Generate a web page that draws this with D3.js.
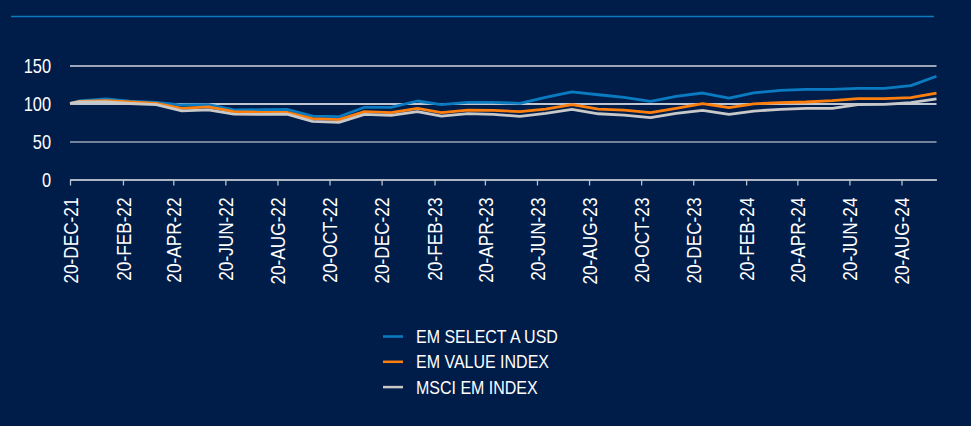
<!DOCTYPE html>
<html>
<head>
<meta charset="utf-8">
<script src="https://cdn.jsdelivr.net/npm/d3@7"></script>
<style>
  body { margin: 0; background: #001d4a; }
  svg { display: block; }
  text { font-family: "Liberation Sans", Arial, sans-serif; fill: #ffffff; }
</style>
</head>
<body>
<svg id="chart" width="971" height="426"></svg>
<script>
// data: index level, start 20-Dec-21 then month ends
const dates = [
  "2021-12-20", "2021-12-31",
  "2022-01-31", "2022-02-28", "2022-03-31", "2022-04-30", "2022-05-31", "2022-06-30",
  "2022-07-31", "2022-08-31", "2022-09-30", "2022-10-31", "2022-11-30", "2022-12-31",
  "2023-01-31", "2023-02-28", "2023-03-31", "2023-04-30", "2023-05-31", "2023-06-30",
  "2023-07-31", "2023-08-31", "2023-09-30", "2023-10-31", "2023-11-30", "2023-12-31",
  "2024-01-31", "2024-02-29", "2024-03-31", "2024-04-30", "2024-05-31", "2024-06-30",
  "2024-07-31", "2024-08-31", "2024-09-30"
];
const emSelect = [
  100, 103.5,
  106, 103, 101.5, 98, 98.5, 91.5,
  91.8, 92.3, 83.5, 82.6, 95, 95,
  103.3, 98.5, 101.5, 101.5, 100.2, 108.1,
  115.4, 111.5, 108.1, 102.9, 109.5, 113.8,
  107.2, 114, 117.4, 118.7, 118.7, 120,
  120, 123.5, 135.8
];
const emValue = [
  100, 102.8,
  103.7, 102, 100.2, 93.7, 95.6, 89.2,
  88.4, 88.4, 80, 78.7, 89.2, 88,
  93.7, 88, 91.4, 91, 89.2, 92.7,
  98.5, 92.5, 91.4, 88, 93.7, 99.8,
  94.5, 99.5, 101.2, 102, 103.7, 106.4,
  106.4, 107.7, 113.8
];
const msciEm = [
  100, 102,
  102, 100, 98.5, 90.3, 91.5, 85.9,
  85.7, 86, 76.5, 75.2, 85.7, 84.4,
  89.2, 83.5, 86.6, 85.7, 83.1, 87,
  92.3, 86.5, 84.8, 81.3, 87, 91,
  85.8, 90.1, 92.3, 93.7, 93.7, 98.5,
  98.9, 101, 106
];
const seriesNames = ["EM SELECT A USD", "EM VALUE INDEX", "MSCI EM INDEX"];
const seriesColors = ["#0a7bc1", "#ff7f0e", "#c8c8c8"];
const yTicks = [0, 50, 100, 150];
const xTickLabels = [
  "20-DEC-21", "20-FEB-22", "20-APR-22", "20-JUN-22", "20-AUG-22", "20-OCT-22",
  "20-DEC-22", "20-FEB-23", "20-APR-23", "20-JUN-23", "20-AUG-23", "20-OCT-23",
  "20-DEC-23", "20-FEB-24", "20-APR-24", "20-JUN-24", "20-AUG-24"
];

const svg = d3.select("#chart");
const parseDate = d3.utcParse("%Y-%m-%d");
const parseTick = d3.utcParse("%d-%b-%y");

const rows = dates.map((d, i) => ({
  date: parseDate(d),
  values: [emSelect[i], emValue[i], msciEm[i]]
}));

const plotLeft = 70, plotRight = 936.5, plotTop = 65.5, plotBottom = 179.5;
const squeeze = 0.84; // condensed look from a regular font

const x = d3.scaleUtc()
  .domain(d3.extent(rows, d => d.date))
  .range([plotLeft, plotRight]);

const y = d3.scaleLinear()
  .domain([0, 150])
  .range([plotBottom, plotTop]);

// top rule
svg.append("line")
  .attr("x1", 11).attr("x2", 934)
  .attr("y1", 16.5).attr("y2", 16.5)
  .attr("stroke", "#0a7bc1")
  .attr("stroke-width", 1.5);

// y axis + gridlines
const gridColor = { 0: "#b9c1cd", 50: "#9aa5b6", 100: "#ffffff", 150: "#d0d5de" };
const yAxis = svg.append("g")
  .attr("transform", `translate(${plotLeft},0)`)
  .call(d3.axisLeft(y).tickValues(yTicks).tickSize(-(plotRight - plotLeft)).tickPadding(19));
yAxis.select(".domain").remove();
yAxis.selectAll("line")
  .attr("stroke", d => gridColor[d])
  .attr("stroke-width", 1.3);
yAxis.selectAll("text")
  .attr("x", -19 / 0.82)
  .attr("transform", "scale(0.82,1)")
  .attr("dy", "0.36em")
  .style("font-size", "20px");

// x axis
const xAxis = svg.append("g")
  .attr("transform", `translate(0,${plotBottom})`)
  .call(d3.axisBottom(x)
    .tickValues(xTickLabels.map(parseTick))
    .tickFormat(d => d3.utcFormat("%d-%b-%y")(d).toUpperCase())
    .tickSize(6)
    .tickSizeOuter(0));
xAxis.select(".domain").attr("stroke", "#b9c1cd").attr("stroke-width", 1.3);
xAxis.selectAll("line").attr("stroke", "#b9c1cd").attr("stroke-width", 1.3);
xAxis.selectAll("text")
  .attr("transform", `rotate(-90) scale(${squeeze},1)`)
  .attr("x", -18 / squeeze)
  .attr("y", 0)
  .attr("dy", "0.36em")
  .style("text-anchor", "end")
  .style("font-size", "20.5px");

// lines
const line = d3.line()
  .x(d => x(d.date))
  .y(d => y(d.v));

seriesNames.forEach((name, i) => {
  svg.append("path")
    .datum(rows.map(r => ({ date: r.date, v: r.values[i] })))
    .attr("fill", "none")
    .attr("stroke", seriesColors[i])
    .attr("stroke-width", 2.8)
    .attr("stroke-linejoin", "round")
    .attr("d", line);
});

// legend
const legend = svg.append("g").attr("transform", "translate(383,336.5)");
seriesNames.forEach((name, i) => {
  const row = legend.append("g").attr("transform", `translate(0,${i * 25.3})`);
  row.append("line")
    .attr("x1", 0).attr("x2", 20)
    .attr("stroke", seriesColors[i])
    .attr("stroke-width", 2.5);
  row.append("text")
    .attr("transform", "translate(33,0) scale(0.865,1)")
    .attr("dy", "0.36em")
    .style("font-size", "18.5px")
    .text(name);
});
</script>
</body>
</html>
